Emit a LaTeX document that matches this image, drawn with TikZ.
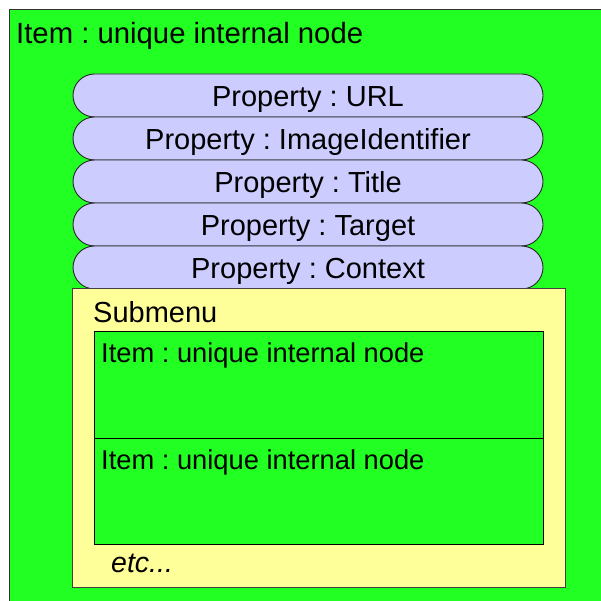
\documentclass[tikz,border=0pt]{standalone}
\usepackage{fontspec}
\setmainfont{Liberation Sans}
\usetikzlibrary{shapes.misc}
\definecolor{itemgreen}{RGB}{34,255,34}
\definecolor{pillblue}{RGB}{204,204,255}
\definecolor{subyellow}{RGB}{255,255,153}
\tikzset{
  txt/.style={font=\fontsize{29}{34}\selectfont, inner sep=0pt},
  pill/.style={rounded rectangle, draw=black!85, line width=0.9pt, fill=pillblue,
     minimum width=470pt, minimum height=43pt, inner sep=0pt,
     text height=22pt, text depth=0pt, font=\fontsize{29}{34}\selectfont},
  itembox/.style={draw=black, line width=0.9pt, fill=itemgreen},
}
\begin{document}
\frenchspacing
\begin{tikzpicture}[x=1pt,y=-1pt]
\useasboundingbox (0,0) rectangle (600,601);
% outer item
\draw[draw=black!80, line width=1pt, fill=itemgreen] (9,10) rectangle (602,603);
\node[txt, anchor=base west, font=\fontsize{29.3}{34}\selectfont] (title) at (16,44) {Item : unique internal node};
% properties
\node[pill] (p1) at (308,95.5) {Property : URL};
\node[pill] (p2) at (308,138.5) {Property : ImageIdentifier};
\node[pill] (p3) at (308,181.5) {Property : Title};
\node[pill] (p4) at (308,224.5) {Property : Target};
\node[pill] (p5) at (308,267.5) {Property : Context};
% submenu
\draw[draw=black!75, line width=0.9pt, fill=subyellow] (72,288.5) rectangle (565,587);
\node[txt, anchor=base west] (sub) at (93,322) {Submenu};
\draw[itembox] (94,331) rectangle (543,438);
\draw[itembox] (94,438) rectangle (543,544);
\node[txt, anchor=base west, font=\fontsize{27.3}{32}\selectfont] (i1) at (101,362) {Item : unique internal node};
\node[txt, anchor=base west, font=\fontsize{27.3}{32}\selectfont] (i2) at (101,469) {Item : unique internal node};
\node[txt, anchor=base west, font=\fontsize{28.5}{33}\selectfont\itshape] (etc) at (111,572) {etc...};
\end{tikzpicture}
\end{document}
